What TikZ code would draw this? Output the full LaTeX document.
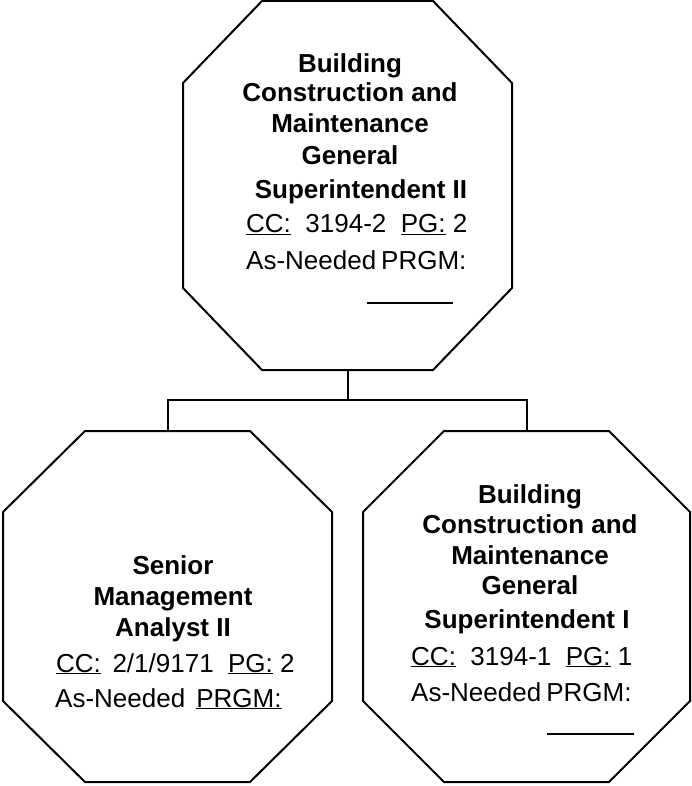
\documentclass[tikz,border=0pt]{standalone}
\usepackage{fontspec}
\setmainfont{Liberation Sans}
\usetikzlibrary{calc}

\tikzset{
  edge/.style={draw=black, line width=2pt, line join=miter},
  frame/.style={rectangle, draw=none, inner sep=0pt, outer sep=0pt},
  title/.style={inner sep=0pt, anchor=base, font=\fontsize{26}{31}\selectfont\bfseries},
  detail/.style={inner sep=0pt, anchor=base west, font=\fontsize{26}{31}\selectfont},
}

% chamfered outline around a frame node: #1 name, #2 horizontal cut, #3 vertical cut
\newcommand\drawocto[3]{%
  \draw[edge] ($(#1.north west)+(#2,0)$) -- ($(#1.north east)+(-#2,0)$)
    -- ($(#1.north east)+(0,#3)$) -- ($(#1.south east)+(0,-#3)$)
    -- ($(#1.south east)+(-#2,0)$) -- ($(#1.south west)+(#2,0)$)
    -- ($(#1.south west)+(0,-#3)$) -- ($(#1.north west)+(0,#3)$) -- cycle;}

\begin{document}
\begin{tikzpicture}[x=1pt,y=-1pt]
\useasboundingbox (0,0) rectangle (691,786);

% frames of the three positions
\node[frame, minimum width=329pt, minimum height=369pt] (top)  at (347.5,185.5) {};
\node[frame, minimum width=329pt, minimum height=351pt] (lbox) at (167.5,606.5) {};
\node[frame, minimum width=327pt, minimum height=351pt] (rbox) at (526.5,606.5) {};

\drawocto{top}{79}{82}
\drawocto{lbox}{82}{81}
\drawocto{rbox}{81}{81}

% reporting lines
\draw[edge] (top.south) -- ++(0,30) coordinate (bus);
\draw[edge] (lbox.north) |- (bus) -| (rbox.north);

% top position
\node[title] (t1) at (350,72.5) {Building};
\node[title] (t2) at (350,102) {Construction and};
\node[title] (t3) at (350,133) {Maintenance};
\node[title] (t4) at (350,165) {General};
\node[title] (t5) at (361,199) {Superintendent II};
\node[detail] (t6) at (246,233) {\underline{CC:}\ \ 3194-2\ \ \underline{PG:}\ 2};
\node[detail] (t7) at (246,269) {As-Needed\hspace{5pt}PRGM:};
\coordinate (tu1) at (367,303);
\coordinate (tu2) at (453,303);
\draw[line width=1.6pt] (tu1) -- (tu2);

% left position
\node[title] (l1) at (173,574) {Senior};
\node[title] (l2) at (173,605) {Management};
\node[title] (l3) at (173,636) {Analyst II};
\node[detail] (l4) at (56,672) {\underline{CC:}\ \,2/1/9171\ \ \underline{PG:}\ 2};
\node[detail] (l5) at (55,707) {As-Needed\hspace{11pt}\underline{PRGM:}};

% right position
\node[title] (r1) at (530,503) {Building};
\node[title] (r2) at (530,533) {Construction and};
\node[title] (r3) at (530,564) {Maintenance};
\node[title] (r4) at (530,594) {General};
\node[title] (r5) at (527,628) {Superintendent I};
\node[detail] (r6) at (411,665) {\underline{CC:}\ \ 3194-1\ \ \underline{PG:}\ 1};
\node[detail] (r7) at (411,701) {As-Needed\hspace{5pt}PRGM:};
\coordinate (ru1) at (547,734);
\coordinate (ru2) at (634,734);
\draw[line width=1.6pt] (ru1) -- (ru2);
\end{tikzpicture}
\end{document}
